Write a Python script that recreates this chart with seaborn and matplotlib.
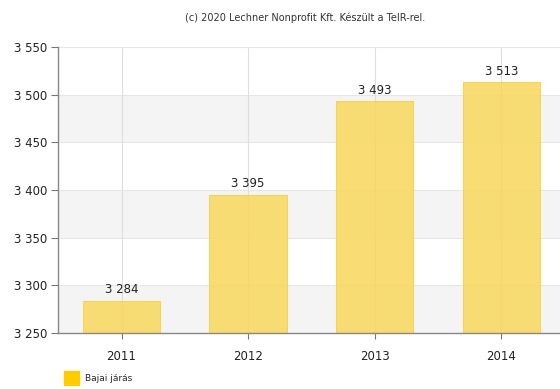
import matplotlib
matplotlib.use('Agg')
import matplotlib.pyplot as plt
import matplotlib.patches as mpatches
import pandas as pd
import seaborn as sns

years = ['2011', '2012', '2013', '2014']
values = [3284, 3395, 3493, 3513]
series_name = 'Bajai járás'
y_ticks = [3250, 3300, 3350, 3400, 3450, 3500, 3550]


def fmt(v):
    return f'{v:,}'.replace(',', ' ')


if __name__ == '__main__':
    sns.set_theme(style='white')
    plt.rcParams['font.family'] = ['DejaVu Sans']
    df = pd.DataFrame({'year': years, 'value': values})

    fig = plt.figure(figsize=(5.6, 3.89), dpi=100)
    ax = fig.add_axes([0.104, 0.144, 0.904, 0.735])

    # alternating bands
    for i in range(len(y_ticks) - 1):
        if i % 2 == 0:
            ax.axhspan(y_ticks[i], y_ticks[i + 1], color='#f4f4f4', zorder=0, lw=0)
    for t in y_ticks:
        ax.axhline(t, color='#e6e6e6', lw=0.8, zorder=0.5)
    for i in range(len(years)):
        ax.axvline(i, color='#dedede', lw=0.8, zorder=0.6)

    sns.barplot(data=df, x='year', y='value', ax=ax, color='#f8d85c', saturation=1, alpha=0.85,
                width=0.61, edgecolor='#f5d240', linewidth=0.8, zorder=2)
    for i, v in enumerate(values):
        ax.text(i, v + 5, fmt(v), ha='center', va='bottom', fontsize=8.5, color='#222222', zorder=4)

    ax.set_ylim(3250, 3550)
    ax.set_xlim(-0.5, 3.5)
    ax.set_yticks(y_ticks)
    ax.set_yticklabels([fmt(t) for t in y_ticks], fontsize=8.5, color='#222222')
    ax.tick_params(axis='x', labelsize=8.5, colors='#222222', length=4, width=0.8, color='#777777', direction='out', bottom=True, pad=8)
    ax.tick_params(axis='y', length=5, width=0.8, color='#777777', direction='out', left=True, pad=3)
    ax.set_xlabel('')
    ax.set_ylabel('')
    for s in ['top', 'right']:
        ax.spines[s].set_visible(False)
    for s in ['left', 'bottom']:
        ax.spines[s].set_color('#888888')
        ax.spines[s].set_linewidth(1.0)

    fig.text(0.545, 0.955, '(c) 2020 Lechner Nonprofit Kft. Készült a TeIR-rel.',
             ha='center', va='center', fontsize=7, color='#333333')

    handle = mpatches.Patch(color='#ffcc00', label=series_name)
    fig.legend(handles=[handle], loc='lower left', bbox_to_anchor=(0.1, -0.01), frameon=False,
               fontsize=6.5, handlelength=1.7, handleheight=1.9, handletextpad=0.6)

    fig.savefig('out.png', dpi=100)
